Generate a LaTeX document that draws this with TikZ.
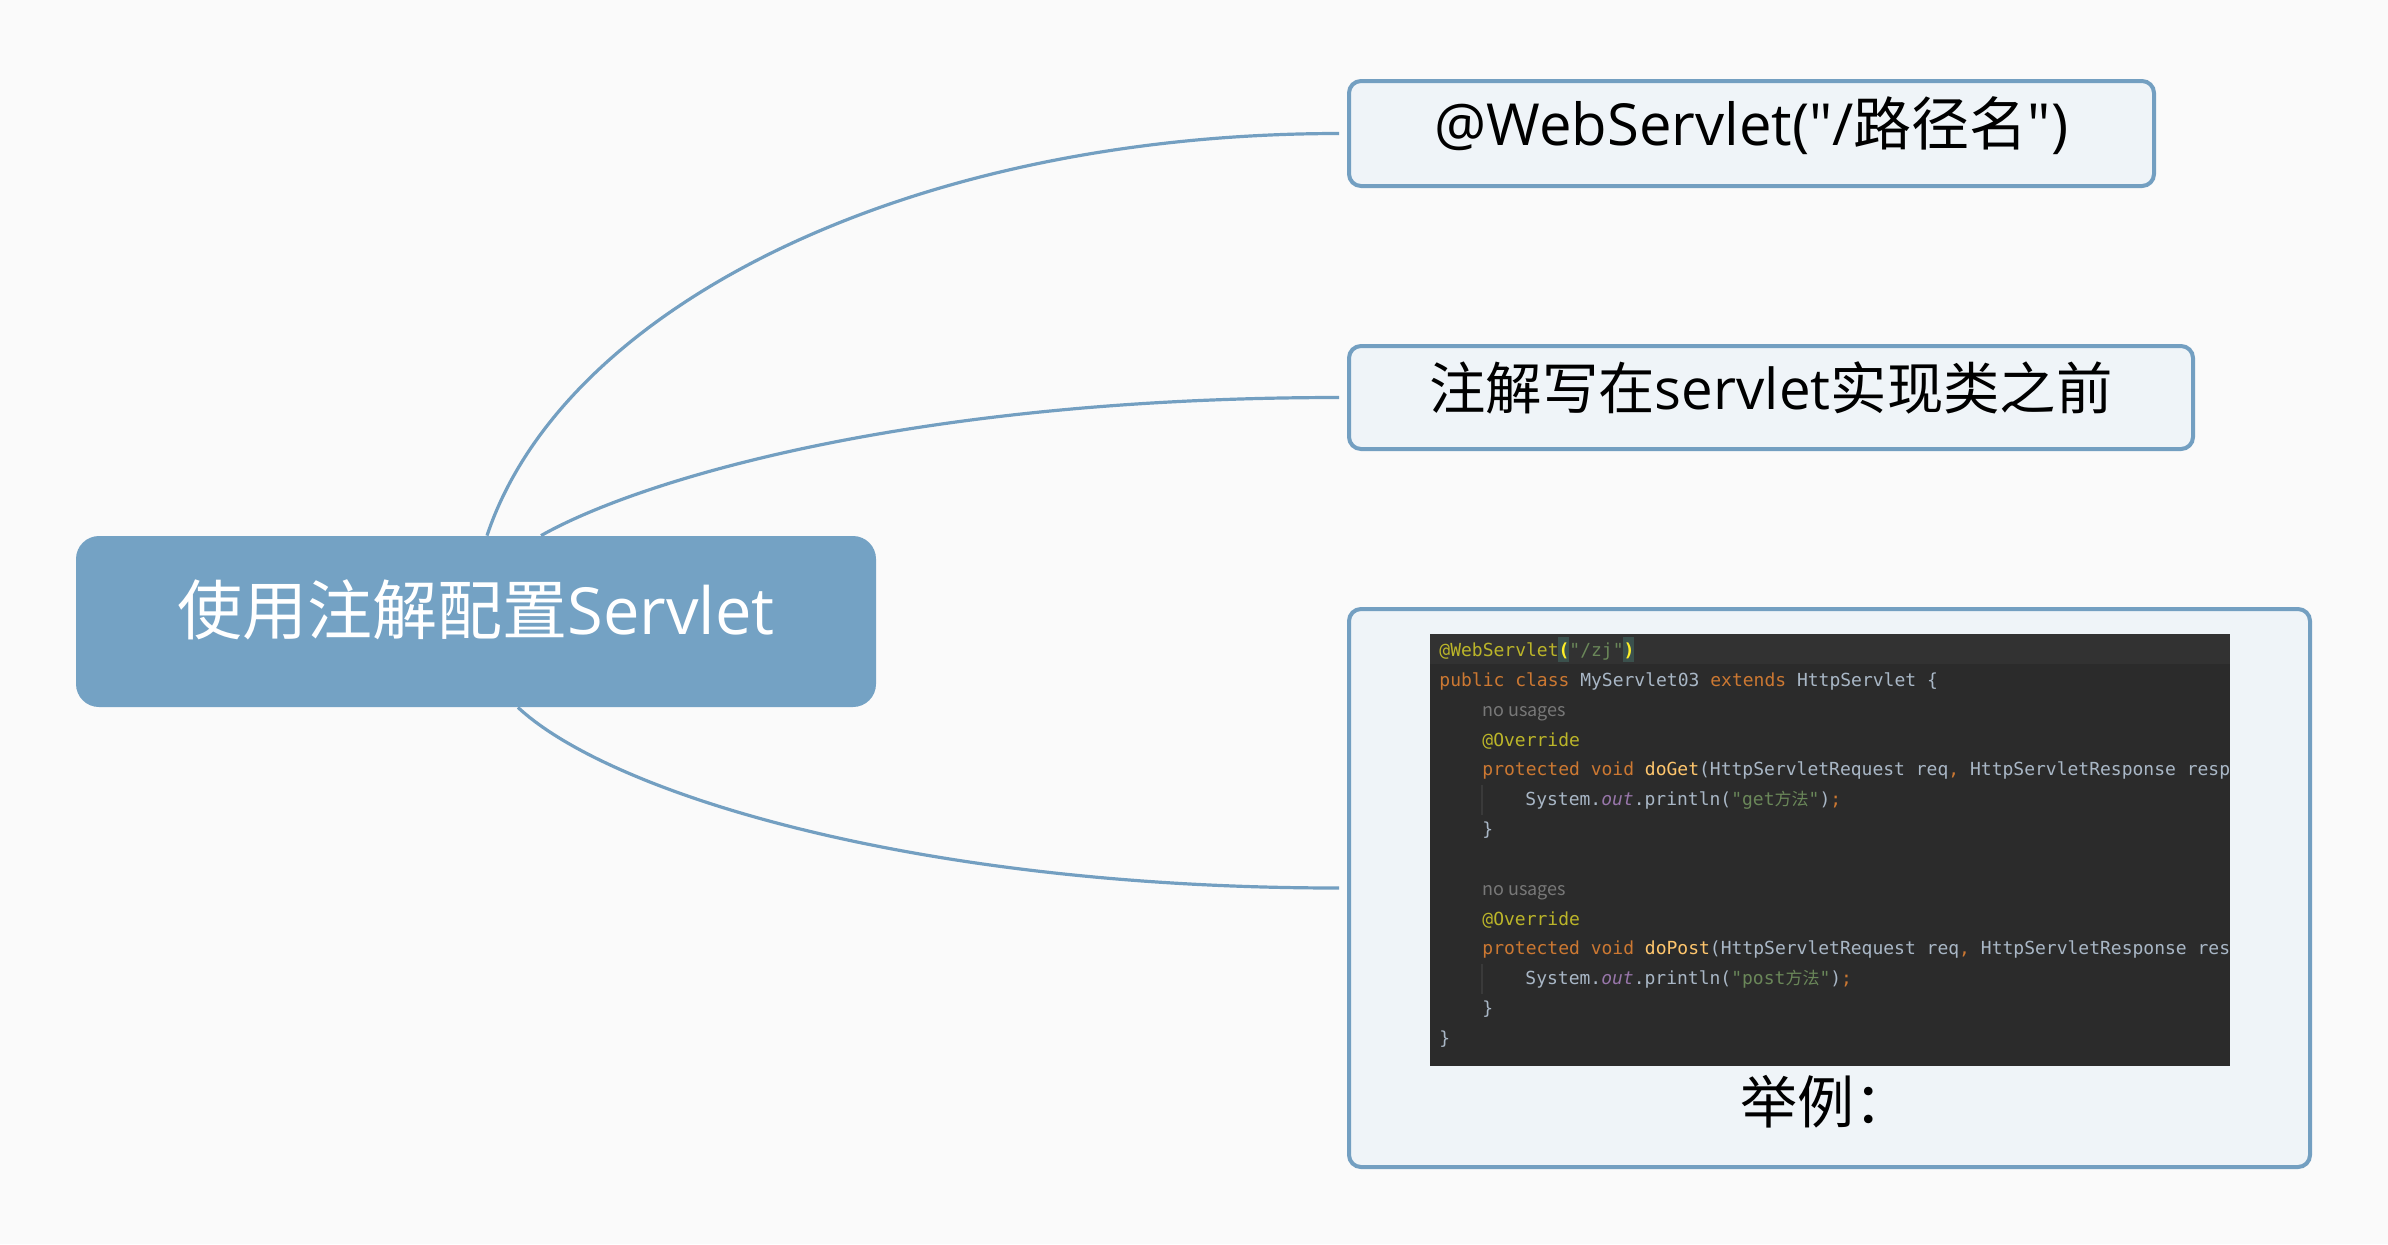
\documentclass[tikz,border=0pt]{standalone}
\usepackage{fontspec}
\setmainfont{Noto Sans CJK SC}
\newfontfamily\latin{Open Sans}
\newfontfamily\codefont{DejaVu Sans Mono}
\usepackage{xcolor}
\usetikzlibrary{positioning,calc}

\definecolor{paper}{HTML}{FAFAFA}
\definecolor{mapblue}{HTML}{74A2C4}
\definecolor{linkblue}{HTML}{739FC1}
\definecolor{boxfill}{HTML}{EFF4F8}
\definecolor{ide}{HTML}{2B2B2B}
\definecolor{idetop}{HTML}{323232}
\definecolor{idematch}{HTML}{3B514D}
\definecolor{idebrace}{HTML}{FFEF28}
\definecolor{idekw}{HTML}{CC7832}
\definecolor{idean}{HTML}{BBB529}
\definecolor{ideid}{HTML}{A9B7C6}
\definecolor{idemt}{HTML}{FFC66D}
\definecolor{idestr}{HTML}{6A8759}
\definecolor{idefd}{HTML}{9876AA}
\definecolor{idegray}{HTML}{787878}
\definecolor{ideguide}{HTML}{3A3A3A}

\newcommand{\kwd}[1]{\textcolor{idekw}{#1}}
\newcommand{\ann}[1]{\textcolor{idean}{#1}}
\newcommand{\mth}[1]{\textcolor{idemt}{#1}}
\newcommand{\strg}[1]{\textcolor{idestr}{#1}}
\newcommand{\fld}[1]{\textcolor{idefd}{\itshape #1}}
\newcommand{\brc}[1]{\textcolor{idebrace}{\bfseries #1}}
\newcommand{\zh}[1]{{\normalfont\fontsize{8.5}{10}\selectfont #1}}

\begin{document}
\begin{tikzpicture}[
  x=0.5pt, y=-0.5pt,
  rootbox/.style={fill=mapblue, rounded corners=11.5pt, text=white,
    font=\fontsize{32.5}{39}\selectfont, text height=24pt, text depth=11pt},
  topicbox/.style={draw=linkblue, line width=2pt, fill=boxfill, rounded corners=6pt,
    font=\fontsize{29}{35}\selectfont, text height=21.5pt, text depth=10pt},
  link/.style={draw=linkblue, line width=1.6pt, shorten >=4pt},
  codeline/.style={anchor=base west, inner sep=0pt, text=ideid,
    font=\codefont\fontsize{9}{10}\selectfont},
  hint/.style={anchor=base west, inner sep=0pt, text=idegray,
    font=\fontsize{9}{10}\selectfont},
]
  \fill[paper] (0,0) rectangle (2388,1244);
  \useasboundingbox (0,0) rectangle (2388,1244);

  % central topic
  \node[rootbox, minimum width=400pt, minimum height=85.5pt] (root) at (476,621.5)
    {使用注解配置{\latin Servlet}};

  % sub topics
  \node[topicbox, minimum width=402.5pt, minimum height=52.5pt] (web) at (1751.5,133.5)
    {{\latin @WebServlet("/}路径名{\latin ")}};
  \node[topicbox, font=\fontsize{28.2}{34}\selectfont, minimum width=422pt, minimum height=51.5pt]
    (note) at (1771,397.5) {注解写在{\latin servlet}实现类之前};
  \node[topicbox, minimum width=480.5pt, minimum height=279pt] (demo) at (1829.5,888) {};

  \draw[link] ($(root.north)+(11,0)$) .. controls +(77,-231) and +(-435,0) .. (web.west);
  \draw[link] ($(root.north)+(65,0)$) .. controls +(99,-56) and +(-435,0) .. (note.west);
  \draw[link] ($(root.south)+(42,0)$) .. controls +(91,85) and +(-435,0) .. (demo.west);

  % screenshot of the servlet class
  \node[fill=ide, inner sep=0pt, minimum width=400pt, minimum height=216pt] (code) at (1830,850) {};
  \node[below=4pt of code, xshift=-2pt, inner sep=0pt, font=\fontsize{28.5}{34}\selectfont] (caption) {举例：};

  \begin{scope}
    \clip (code.north west) rectangle (code.south east);
    \fill[idetop] (1430,634) rectangle (2230,664);
    \fill[idematch] (1558,637) rectangle (1569,662);
    \fill[idematch] (1623,637) rectangle (1634,662);
    \draw[ideguide, line width=0.6pt] (1482,785) -- (1482,815);
    \draw[ideguide, line width=0.6pt] (1482,964) -- (1482,994);

    \node[codeline] (l0) at (1439,656) {\ann{@WebServlet}\brc{(}\strg{"/zj"}\brc{)}};
    \node[codeline] (l1) at (1439,686) {\kwd{public class} MyServlet03 \kwd{extends} HttpServlet \{};
    \node[hint] (l2) at (1482,716) {no usages};
    \node[codeline] (l3) at (1482,746) {\ann{@Override}};
    \node[codeline] (l4) at (1482,775) {\kwd{protected void} \mth{doGet}(HttpServletRequest req\kwd{,} HttpServletResponse resp) \{};
    \node[codeline] (l5) at (1525,805) {System.\fld{out}.println(\strg{"get\zh{方法}"})\kwd{;}};
    \node[codeline] (l6) at (1482,835) {\}};
    \node[hint] (l8) at (1482,895) {no usages};
    \node[codeline] (l9) at (1482,925) {\ann{@Override}};
    \node[codeline] (l10) at (1482,954) {\kwd{protected void} \mth{doPost}(HttpServletRequest req\kwd{,} HttpServletResponse resp) \{};
    \node[codeline] (l11) at (1525,984) {System.\fld{out}.println(\strg{"post\zh{方法}"})\kwd{;}};
    \node[codeline] (l12) at (1482,1014) {\}};
    \node[codeline] (l13) at (1439,1044) {\}};
  \end{scope}
\end{tikzpicture}
\end{document}
